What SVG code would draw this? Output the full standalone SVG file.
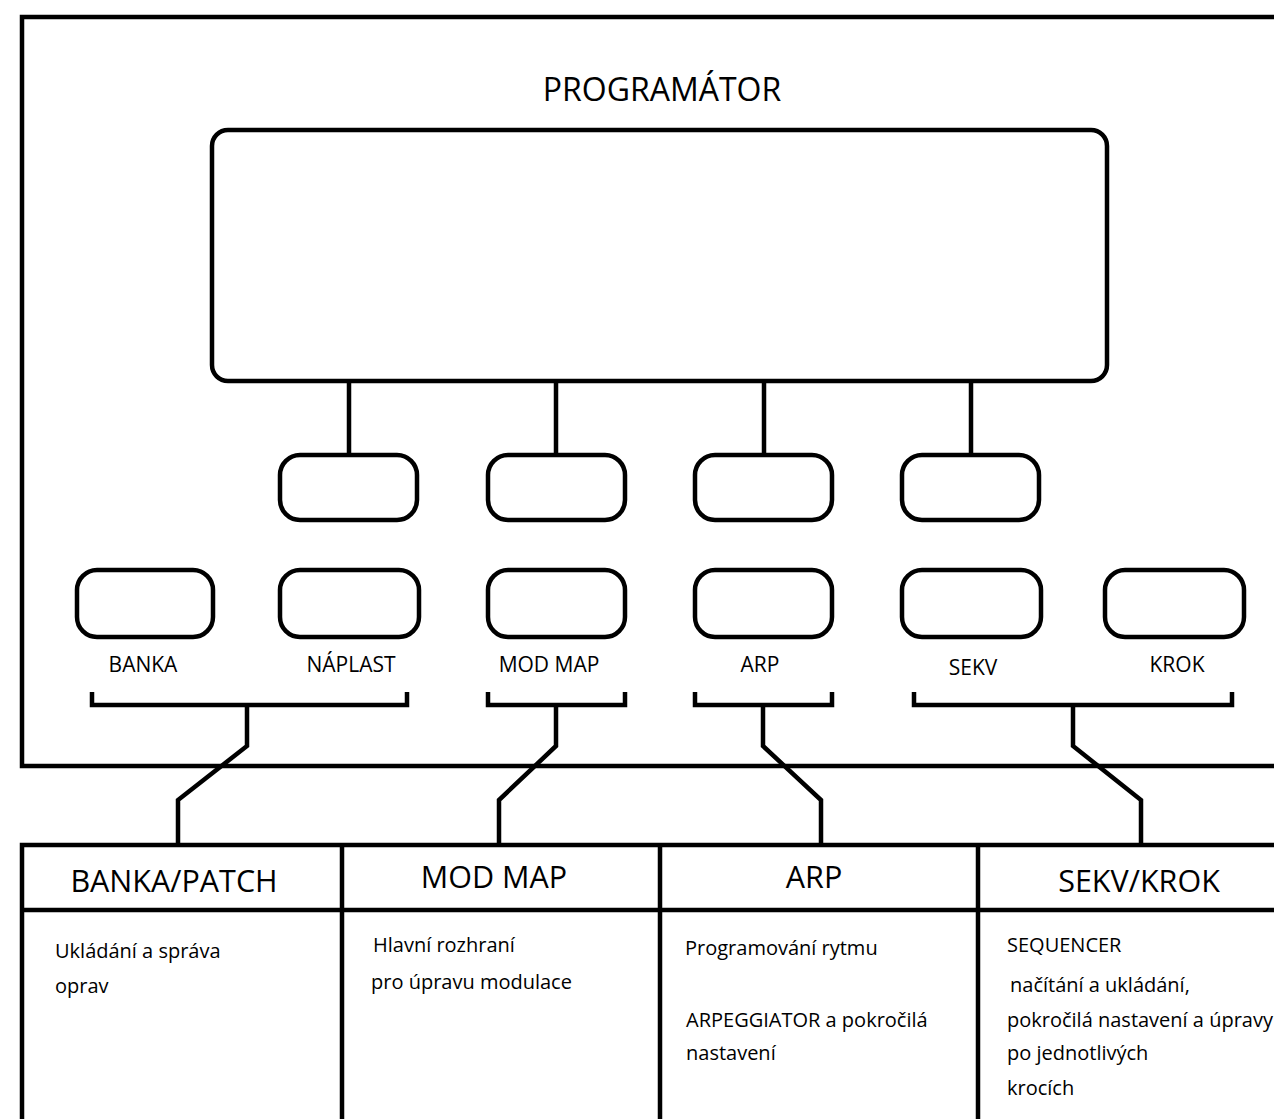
<svg xmlns="http://www.w3.org/2000/svg" width="1274" height="1119" viewBox="0 0 1274 1119">
<style>
.ln{fill:none;stroke:#000;stroke-width:4.5;stroke-linejoin:miter}
.btn{fill:#fff;stroke:#000;stroke-width:4.5}
.t{font-family:"Open Sans","Noto Sans",sans-serif;fill:#000}
.lbl{font-size:21px;text-anchor:middle}
.hd{font-size:30.5px;text-anchor:middle}
.bd{font-size:20px}
</style>
<rect width="1274" height="1119" fill="#fff"/>
<g id="frame">
<path class="ln" d="M1280,17 H22 V766 H1280" stroke-width="5"/>
<text class="t" x="662" y="101" font-size="32" text-anchor="middle">PROGRAMÁTOR</text>
</g>
<g id="display"><rect class="btn" x="212" y="130" width="895" height="251" rx="16"/></g>
<g id="connectors">
<path class="ln" d="M349,381 V455 M556,381 V455 M764,381 V455 M971,381 V455"/>
<path class="ln" d="M92,692 V705 H407 V692 M488,692 V705 H625 V692 M695,692 V705 H832 V692 M914,692 V705 H1232 V692"/>
<path class="ln" d="M247,705 V746 L178,800 V845"/>
<path class="ln" d="M556,705 V746 L499,800 V845"/>
<path class="ln" d="M763,705 V746 L821,800 V845"/>
<path class="ln" d="M1073,705 V746 L1141,800 V845"/>
</g>
<g id="top-buttons">
<rect class="btn" x="280" y="455" width="137" height="65" rx="20"/>
<rect class="btn" x="488" y="455" width="137" height="65" rx="20"/>
<rect class="btn" x="695" y="455" width="137" height="65" rx="20"/>
<rect class="btn" x="902" y="455" width="137" height="65" rx="20"/>
</g>
<g id="btn-banka"><rect class="btn" x="77" y="570" width="136" height="67" rx="20"/><text class="t lbl" x="143" y="672">BANKA</text></g>
<g id="btn-naplast"><rect class="btn" x="280" y="570" width="139" height="67" rx="20"/><text class="t lbl" x="351" y="672">NÁPLAST</text></g>
<g id="btn-modmap"><rect class="btn" x="488" y="570" width="137" height="67" rx="20"/><text class="t lbl" x="549" y="672">MOD MAP</text></g>
<g id="btn-arp"><rect class="btn" x="695" y="570" width="137" height="67" rx="20"/><text class="t lbl" x="760" y="672">ARP</text></g>
<g id="btn-sekv"><rect class="btn" x="902" y="570" width="139" height="67" rx="20"/><text class="t lbl" x="973" y="675">SEKV</text></g>
<g id="btn-krok"><rect class="btn" x="1105" y="570" width="139" height="67" rx="20"/><text class="t lbl" x="1177" y="672">KROK</text></g>
<g id="table">
<path class="ln" d="M22,1125 V845 H1280 M22,910 H1280 M342,845 V1125 M660,845 V1125 M978,845 V1125"/>
</g>
<g id="col-banka">
<text class="t hd" x="174" y="892">BANKA/PATCH</text>
<text class="t bd" x="55" y="958">Ukládání a správa</text>
<text class="t bd" x="55" y="993">oprav</text>
</g>
<g id="col-modmap">
<text class="t hd" x="494" y="888">MOD MAP</text>
<text class="t bd" x="373" y="952">Hlavní rozhraní</text>
<text class="t bd" x="371" y="989">pro úpravu modulace</text>
</g>
<g id="col-arp">
<text class="t hd" x="814" y="888">ARP</text>
<text class="t bd" x="685" y="955">Programování rytmu</text>
<text class="t bd" x="686" y="1027">ARPEGGIATOR a pokročilá</text>
<text class="t bd" x="686" y="1060">nastavení</text>
</g>
<g id="col-sekv">
<text class="t hd" x="1139" y="892">SEKV/KROK</text>
<text class="t bd" x="1007" y="952">SEQUENCER</text>
<text class="t bd" x="1010" y="992">načítání a ukládání,</text>
<text class="t bd" x="1007" y="1027">pokročilá nastavení a úpravy</text>
<text class="t bd" x="1007" y="1060">po jednotlivých</text>
<text class="t bd" x="1007" y="1095">krocích</text>
</g>
</svg>
